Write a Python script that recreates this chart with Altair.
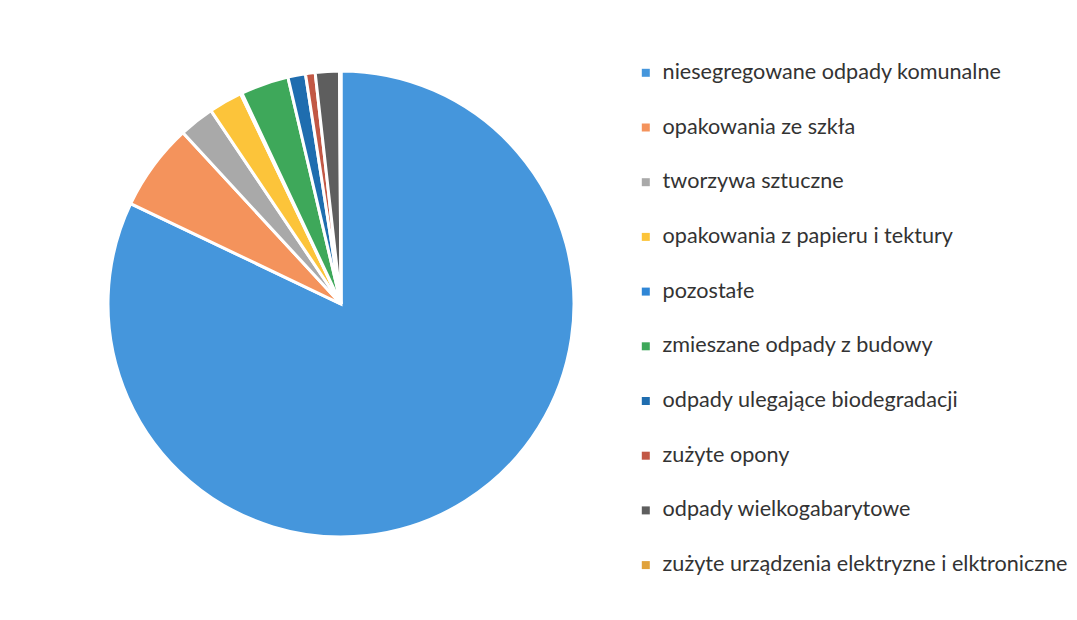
import altair as alt
import pandas as pd

categories = [
    "niesegregowane odpady komunalne",
    "opakowania ze szkła",
    "tworzywa sztuczne",
    "opakowania z papieru i tektury",
    "pozostałe",
    "zmieszane odpady z budowy",
    "odpady ulegające biodegradacji",
    "zużyte opony",
    "odpady wielkogabarytowe",
    "zużyte urządzenia elektryzne i elktroniczne",
]
shares = [82.1, 6.06, 2.44, 2.33, 0.1, 3.33, 1.22, 0.67, 1.67, 0.1]

palette = ["#4596dc", "#f4935c", "#a9a9a9", "#fcc43a", "#2f86d6",
           "#3ea85a", "#1f6daf", "#c25845", "#5e5e5e", "#e0a23c"]

df = pd.DataFrame({"kategoria": categories, "udzial": shares,
                   "kolejnosc": list(range(len(categories)))})

chart = alt.Chart(df).mark_arc(
    outerRadius=233, stroke="white", strokeWidth=3
).encode(
    theta=alt.Theta("udzial:Q", stack=True),
    order=alt.Order("kolejnosc:Q"),
    color=alt.Color(
        "kategoria:N",
        sort=categories,
        scale=alt.Scale(domain=categories, range=palette),
        legend=alt.Legend(
            title=None,
            orient="none",
            legendX=627,
            legendY=54,
            symbolType="square",
            symbolSize=64,
            symbolStrokeWidth=0,
            labelFont="Lato",
            labelFontSize=21.6,
            labelColor="#333333",
            labelLimit=600,
            labelOffset=6,
            rowPadding=31.7,
        ),
    ),
).properties(
    width=666, height=592, padding=0
).configure_view(stroke=None).configure(background="white")

chart.save("out.html", embed_options={"renderer": "svg", "actions": False})
